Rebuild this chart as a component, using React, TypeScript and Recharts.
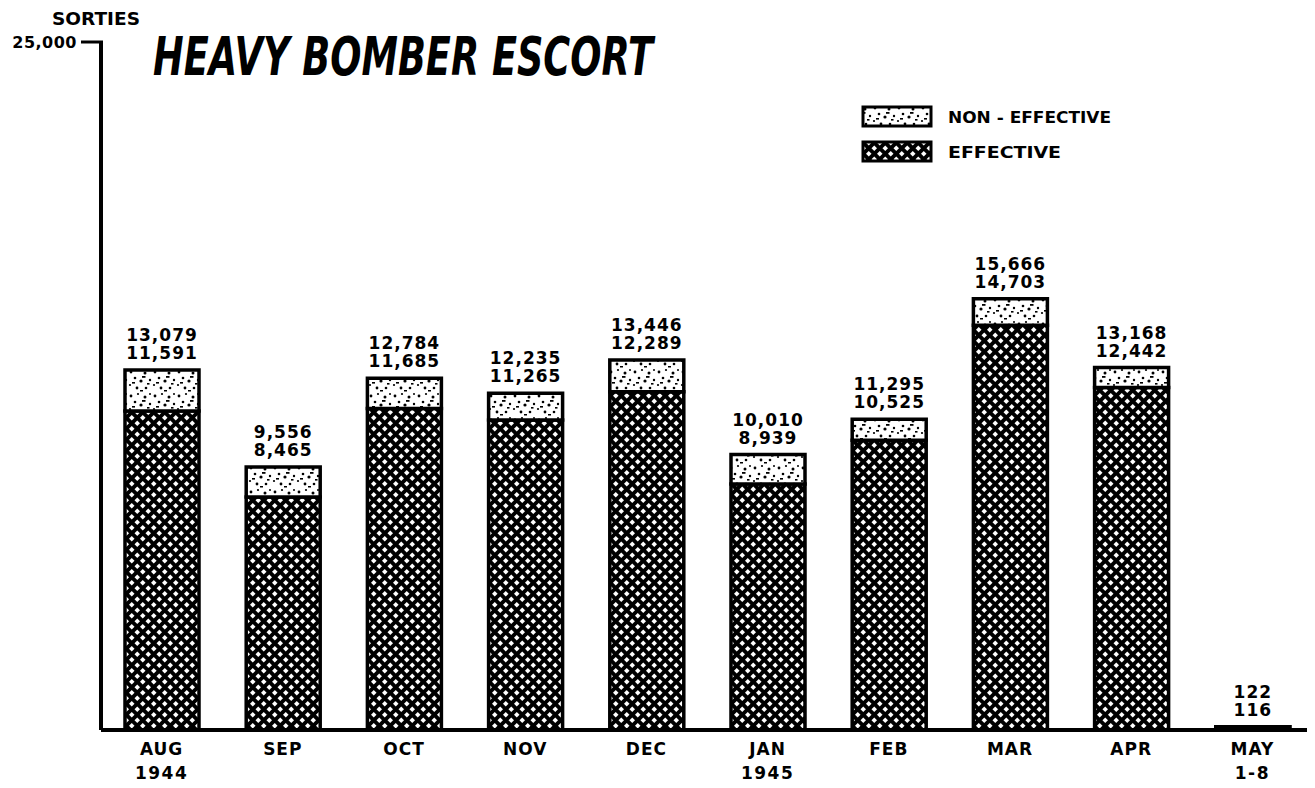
import React from 'react';
import { BarChart, Bar, XAxis, YAxis, LabelList } from 'recharts';

const months = ['AUG', 'SEP', 'OCT', 'NOV', 'DEC', 'JAN', 'FEB', 'MAR', 'APR', 'MAY'];
const subLabels = ['1944', '', '', '', '', '1945', '', '', '', '1-8'];
const totalSorties = [13079, 9556, 12784, 12235, 13446, 10010, 11295, 15666, 13168, 122];
const effectiveSorties = [11591, 8465, 11685, 11265, 12289, 8939, 10525, 14703, 12442, 116];
const yTicks = [25000];

const chartData = months.map((m, i) => ({
  month: m,
  sub: subLabels[i],
  total: totalSorties[i],
  effective: effectiveSorties[i],
  nonEffective: totalSorties[i] - effectiveSorties[i],
}));

const FONT = '"DejaVu Sans", Arial, sans-serif';
const fmt = (v: number) => v.toLocaleString('en-US');

const Patterns = ({ prefix }: { prefix: string }) => (
  <defs>
    <pattern id={`${prefix}hatch`} width="11" height="11" patternUnits="userSpaceOnUse">
      <rect width="11" height="11" fill="#000" />
      <polygon points="2.75,0 5.5,2.75 2.75,5.5 0,2.75" fill="#fff" />
      <polygon points="8.25,5.5 11,8.25 8.25,11 5.5,8.25" fill="#fff" />
    </pattern>
    <pattern id={`${prefix}stipple`} width="24" height="24" patternUnits="userSpaceOnUse">
      <rect width="24" height="24" fill="#fff" />
      <circle cx="3" cy="4" r="1.4" fill="#000" />
      <circle cx="10" cy="2" r="1.1" fill="#000" />
      <circle cx="17" cy="5" r="1.5" fill="#000" />
      <circle cx="22" cy="12" r="1.2" fill="#000" />
      <circle cx="7" cy="10" r="1.3" fill="#000" />
      <circle cx="13" cy="13" r="1.6" fill="#000" />
      <circle cx="2" cy="17" r="1.1" fill="#000" />
      <circle cx="9" cy="20" r="1.4" fill="#000" />
      <circle cx="18" cy="20" r="1.3" fill="#000" />
      <circle cx="22" cy="2" r="1" fill="#000" />
      <rect x="14" y="8" width="3.5" height="1.8" fill="#000" />
      <rect x="4" y="14" width="3" height="1.6" fill="#000" />
      <rect x="19" y="15" width="2.5" height="1.6" fill="#000" />
      <rect x="12" y="22" width="3" height="1.5" fill="#000" />
    </pattern>
  </defs>
);

const MonthTick = (props: any) => {
  const { x, y, payload, index } = props;
  const sub = subLabels[index] ?? '';
  return (
    <g>
      <text x={x} y={y + 17} textAnchor="middle" fontFamily={FONT} fontWeight="bold" fontSize={17} letterSpacing={1} fill="#000">
        {payload.value}
      </text>
      {sub ? (
        <text x={x} y={y + 41} textAnchor="middle" fontFamily={FONT} fontWeight="bold" fontSize={17} letterSpacing={1.5} fill="#000">
          {sub}
        </text>
      ) : null}
    </g>
  );
};

const SortieTick = (props: any) => {
  const { x, y, payload } = props;
  return (
    <g>
      <line x1={x - 12} x2={x + 10} y1={y} y2={y} stroke="#000" strokeWidth={3} />
      <text x={x - 16} y={y + 6} textAnchor="end" fontFamily={FONT} fontWeight="bold" fontSize={16} letterSpacing={0.5} fill="#000">
        {fmt(payload.value)}
      </text>
    </g>
  );
};

const TopLabels = (props: any) => {
  const { x, y, width, index } = props;
  const cx = x + width / 2;
  return (
    <g>
      <text x={cx} y={y - 29} textAnchor="middle" fontFamily={FONT} fontWeight="bold" fontSize={17} letterSpacing={1} fill="#000">
        {fmt(totalSorties[index])}
      </text>
      <text x={cx} y={y - 11} textAnchor="middle" fontFamily={FONT} fontWeight="bold" fontSize={17} letterSpacing={1} fill="#000">
        {fmt(effectiveSorties[index])}
      </text>
    </g>
  );
};

const App = () => {
  return (
    <div style={{ position: 'relative', width: 1307, height: 780 }}>
      <BarChart
        width={1307}
        height={780}
        data={chartData}
        margin={{ top: 34, right: 2, bottom: 8, left: 0 }}
        barCategoryGap={46}
      >
        <Patterns prefix="c-" />
        <XAxis
          dataKey="month"
          tick={<MonthTick />}
          tickLine={false}
          axisLine={{ stroke: '#000', strokeWidth: 4 }}
          height={50}
          interval={0}
        />
        <YAxis
          domain={[0, 25000]}
          ticks={yTicks}
          tick={<SortieTick />}
          tickLine={false}
          axisLine={{ stroke: '#000', strokeWidth: 4 }}
          width={93}
        />
        <Bar dataKey="effective" stackId="s" fill="url(#c-hatch)" stroke="#000" strokeWidth={3.5} barSize={74} isAnimationActive={false} />
        <Bar dataKey="nonEffective" stackId="s" fill="url(#c-stipple)" stroke="#000" strokeWidth={3.5} barSize={74} isAnimationActive={false}>
          <LabelList dataKey="total" content={<TopLabels />} />
        </Bar>
      </BarChart>

      <svg style={{ position: 'absolute', left: 0, top: 0, pointerEvents: 'none' }} width={1307} height={170}>
        <Patterns prefix="l-" />
        <text x={44} y={17} fontFamily={FONT} fontWeight="bold" fontSize={17} textLength={88} lengthAdjust="spacingAndGlyphs" fill="#000">
          SORTIES
        </text>
        <text
          x={145}
          y={67}
          fontFamily={FONT}
          fontWeight="bold"
          fontStyle="italic"
          fontSize={53}
          textLength={500}
          lengthAdjust="spacingAndGlyphs"
          fill="#000"
        >
          HEAVY BOMBER ESCORT
        </text>
        <rect x={855} y={99} width={68} height={19} fill="url(#l-stipple)" stroke="#000" strokeWidth={3} />
        <rect x={855} y={134} width={68} height={19} fill="url(#l-hatch)" stroke="#000" strokeWidth={3} />
        <text x={940} y={115} fontFamily={FONT} fontWeight="bold" fontSize={16} textLength={163} lengthAdjust="spacingAndGlyphs" fill="#000">
          NON - EFFECTIVE
        </text>
        <text x={940} y={150} fontFamily={FONT} fontWeight="bold" fontSize={16} textLength={113} lengthAdjust="spacingAndGlyphs" fill="#000">
          EFFECTIVE
        </text>
      </svg>
    </div>
  );
};

export default App;
